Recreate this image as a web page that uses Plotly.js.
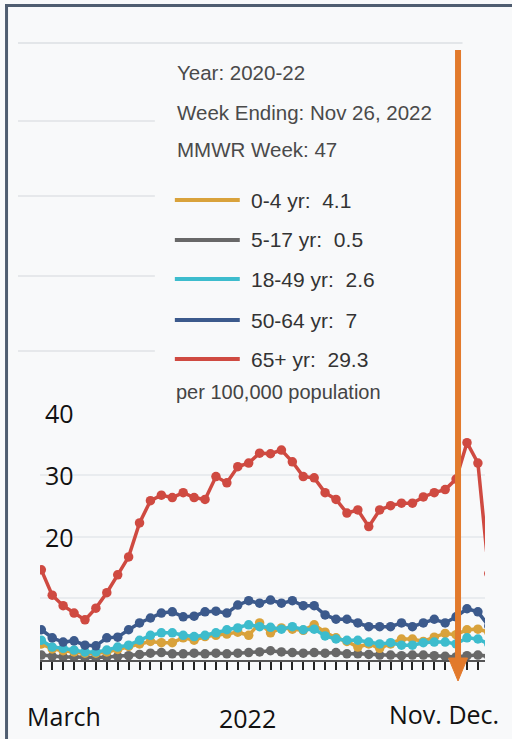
<!DOCTYPE html>
<html>
<head>
<meta charset="utf-8">
<script src="https://cdn.plot.ly/plotly-3.0.1.min.js"></script>
<style>html,body{margin:0;padding:0;background:#f8f9fa;}#chart{width:512px;height:739px;}</style>
</head>
<body>
<div id="chart"></div>
<script>
// Weekly rates per 100,000 (index = week position on the axis)
const weeks = Array.from({length: 42}, (_, i) => i);
const age0to4   = [2.6,1.8,1.5,1.3,1.1,1.1,1.3,1.7,2.2,2.6,3.0,2.8,2.8,3.6,3.2,3.8,4.0,4.2,4.5,4.0,6.0,4.4,5.2,5.0,4.8,5.7,4.5,3.6,3.0,2.1,2.6,1.9,2.6,3.4,3.4,3.0,3.7,4.3,4.1,4.9,5.0,4.5];
const age5to17  = [0.8,0.6,0.5,0.5,0.4,0.4,0.5,0.6,0.7,0.9,1.1,1.2,1.0,1.0,1.1,1.0,1.1,1.0,1.1,1.2,1.3,1.5,1.3,1.2,1.1,1.2,1.1,1.2,1.0,1.0,0.9,0.8,0.8,0.7,0.8,0.8,0.7,0.6,0.5,0.7,0.8,0.6];
const age18to49 = [3.2,2.1,1.9,1.6,1.3,1.3,1.6,2.1,2.4,3.2,4.0,4.4,4.4,4.0,3.8,4.0,4.4,4.9,5.2,5.7,5.4,5.3,5.0,5.4,4.9,5.0,3.9,3.4,3.2,3.2,2.9,2.6,2.8,2.4,2.4,2.8,2.9,2.9,2.6,3.6,3.4,2.6];
const age50to64 = [4.9,3.6,2.9,3.1,2.4,2.3,3.6,3.7,4.9,6.0,6.8,7.6,7.8,7.0,7.1,7.8,7.9,7.6,8.9,9.6,9.2,9.7,9.2,9.6,8.8,8.8,7.3,6.6,6.6,6.0,5.4,5.4,5.4,6.0,5.4,6.0,6.6,6.0,7.0,8.3,7.8,5.5];
const age65plus = [14.6,10.5,8.8,7.6,6.5,8.4,10.9,13.8,16.7,22.2,25.8,26.7,26.3,27.1,26.3,26.0,29.7,28.7,31.3,31.9,33.5,33.4,34.0,32.1,29.7,29.5,27.1,26.0,23.8,24.3,21.6,24.3,25.0,25.4,25.4,26.4,27.1,27.6,29.3,35.2,31.9,14.0];

const seriesNames  = ["0-4 yr", "5-17 yr", "18-49 yr", "50-64 yr", "65+ yr"];
const seriesData   = [age0to4, age5to17, age18to49, age50to64, age65plus];
const seriesColors = ["#d9a23b", "#686868", "#3dbccd", "#3c5a8c", "#cf4a41"];
const drawOrder    = [1, 0, 2, 3, 4];
const selectedWeek = 38;           // week ending Nov 26, 2022 (MMWR week 47)
const yGridVals    = [10, 20, 30, 40];
const yLabelVals   = [20, 30, 40];
const infoLines    = ["Year: 2020-22", "Week Ending: Nov 26, 2022", "MMWR Week: 47"];
const xLabels      = ["March", "2022", "Nov. Dec."];

// pixel helpers for decorations (plot area: x 40..485.5, y 413..660)
const L = 40, R = 485.5, T = 413, B = 660;
const px = v => (v - L) / (R - L);
const py = v => (B - v) / (B - T);

const traces = drawOrder.map(k => ({
  x: weeks, y: seriesData[k], type: "scatter", mode: "lines+markers",
  name: seriesNames[k], showlegend: false, cliponaxis: true,
  line: {color: seriesColors[k], width: 3.5},
  marker: {color: seriesColors[k], size: 9.5}
}));

const ann = [];
const shapes = [];
const infoY = [72, 112, 150];
infoLines.forEach((t, i) => ann.push({
  text: t, xref: "paper", yref: "paper", x: px(175), y: py(infoY[i]),
  xanchor: "left", yanchor: "middle", showarrow: false,
  font: {family: "Liberation Sans, Arial", size: 20.5, color: "#4a4a4a"}
}));
const itemY = [200, 240, 279, 320, 359];
seriesNames.forEach((n, k) => {
  shapes.push({type: "line", xref: "paper", yref: "paper",
    x0: px(175), x1: px(240), y0: py(itemY[k]), y1: py(itemY[k]),
    line: {color: seriesColors[k], width: 4}});
  ann.push({text: n + ":  " + seriesData[k][selectedWeek], xref: "paper", yref: "paper",
    x: px(249), y: py(itemY[k]), xanchor: "left", yanchor: "middle", showarrow: false,
    font: {family: "Liberation Sans, Arial", size: 21, color: "#333"}});
});
ann.push({text: "per 100,000 population", xref: "paper", yref: "paper", x: px(174), y: py(392),
  xanchor: "left", yanchor: "middle", showarrow: false,
  font: {family: "Liberation Sans, Arial", size: 20, color: "#444"}});

yLabelVals.forEach(v => ann.push({text: String(v), xref: "paper", yref: "y",
  x: px(43), y: v, xanchor: "left", yanchor: "middle", showarrow: false, yshift: 0,
  font: {family: "Open Sans", size: 25, color: "#111"}}));

const xlPos = [[25, 716, "left"], [248, 718, "center"], [387, 714, "left"]];
xLabels.forEach((t, i) => ann.push({text: t, xref: "paper", yref: "paper",
  x: px(xlPos[i][0]), y: py(xlPos[i][1]), xanchor: xlPos[i][2], yanchor: "middle",
  showarrow: false, font: {family: "Open Sans", size: 25, color: "#111"}}));

// faint screenshot lines in upper area
shapes.push({type: "line", xref: "paper", yref: "paper", x0: px(18), x1: px(463), y0: py(43), y1: py(43),
  line: {color: "#e3e6e9", width: 2}});
[121, 196, 276, 351].forEach(v => shapes.push({type: "line", xref: "paper", yref: "paper",
  x0: px(18), x1: px(155), y0: py(v), y1: py(v), line: {color: "#e6e8eb", width: 2}}));
// frame
shapes.push({type: "line", xref: "paper", yref: "paper", x0: px(6.5), x1: px(6.5), y0: py(4), y1: py(745),
  line: {color: "#4f5d70", width: 3}});
shapes.push({type: "line", xref: "paper", yref: "paper", x0: px(5), x1: px(520), y0: py(5.5), y1: py(5.5),
  line: {color: "#4f5d70", width: 3}});
// orange arrow
shapes.push({type: "line", xref: "paper", yref: "paper", x0: px(458.5), x1: px(458.5), y0: py(50), y1: py(664),
  line: {color: "#e27a2c", width: 6}});
shapes.push({type: "path", xref: "paper", yref: "paper",
  path: `M ${px(449)} ${py(658)} L ${px(468)} ${py(658)} L ${px(458.5)} ${py(681)} Z`,
  fillcolor: "#e27a2c", line: {color: "#e27a2c", width: 1}});

const layout = {
  width: 512, height: 739,
  margin: {l: L, r: 512 - R, t: T, b: 739 - B, pad: 0},
  paper_bgcolor: "#f8f9fa", plot_bgcolor: "#f8f9fa",
  showlegend: false,
  xaxis: {range: [-0.12, 40.65], tickvals: weeks.slice(0, 41), showticklabels: false,
    ticks: "outside", ticklen: 8, tickwidth: 2, tickcolor: "#222",
    showline: true, linecolor: "#555", linewidth: 2, showgrid: false, zeroline: false},
  yaxis: {range: [0, 40], tickvals: yGridVals, showticklabels: false, ticks: "",
    showgrid: true, gridcolor: "#e9ecef", gridwidth: 2, zeroline: false, showline: false},
  annotations: ann, shapes: shapes
};

Plotly.newPlot("chart", traces, layout, {displayModeBar: false, staticPlot: true});
</script>
</body>
</html>
